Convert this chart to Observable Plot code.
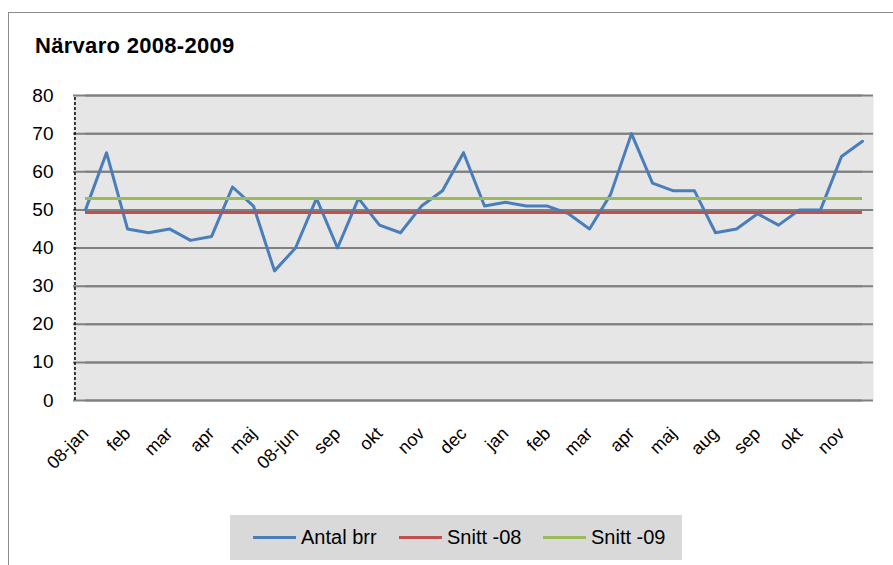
<!DOCTYPE html>
<html>
<head>
<meta charset="utf-8">
<script src="https://cdn.jsdelivr.net/npm/d3@7"></script>
<script src="https://cdn.jsdelivr.net/npm/@observablehq/plot@0.6"></script>
<style>
  body { margin: 0; background: #fff; font-family: "Liberation Sans", Arial, sans-serif; }
  #wrap { position: relative; width: 893px; height: 565px; overflow: hidden; }
  #border { position: absolute; left: 8px; top: 12px; width: 900px; height: 600px; border: 1px solid #8c8c8c; box-sizing: border-box; }
  #title { position: absolute; left: 35px; top: 33px; font-size: 22px; font-weight: bold; color: #000; letter-spacing: 0.3px; }
  #chart { position: absolute; left: 0; top: 0; }
  #legend { position: absolute; left: 230px; top: 515px; width: 452px; height: 45px; background: #d9d9d9; font-size: 20px; color: #000; }
  .item { display: flex; align-items: center; position: absolute; top: 0; height: 45px; }
  .sw { display: inline-block; width: 43px; height: 3px; margin-right: 5px; }
</style>
</head>
<body>
<div id="wrap">
  <div id="border"></div>
  <div id="chart"></div>
  <div id="title">Närvaro 2008-2009</div>
  <div id="legend"></div>
</div>
<script>
const tickLabels = ["08-jan","feb","mar","apr","maj","08-jun","sep","okt","nov","dec","jan","feb","mar","apr","maj","aug","sep","okt","nov"];
const antalBrr = [50,65,45,44,45,42,43,56,51,34,40,53,40,53,46,44,51,55,65,51,52,51,51,49,45,54,70,57,55,55,44,45,49,46,50,50,64,68];
const snitt08 = 49.3;
const snitt09 = 53;
const yTicks = [0,10,20,30,40,50,60,70,80];
const seriesNames = ["Antal brr","Snitt -08","Snitt -09"];
const seriesColors = ["#4a7ebb","#c0504d","#9bbb59"];

const data = antalBrr.map((v, i) => ({i, v}));
const idx = antalBrr.map((_, i) => i);
const tickIdx = tickLabels.map((_, k) => k * 2);
const halfStep = 800 / antalBrr.length / 2;

const chart = Plot.plot({
  width: 893,
  height: 565,
  marginLeft: 73,
  marginRight: 20,
  marginTop: 95,
  marginBottom: 165,
  style: { fontFamily: "Liberation Sans, Arial, sans-serif", background: "transparent", color: "#000" },
  x: { type: "point", domain: idx, padding: 0.5 },
  y: { domain: [0, 80] },
  marks: [
    Plot.frame({ fill: "#e6e6e6", stroke: null }),
    Plot.gridY(yTicks, { stroke: "#808080", strokeOpacity: 1, strokeWidth: 2, x1: 0, x2: antalBrr.length - 1, insetLeft: 0 }),
    Plot.tickY(yTicks, { y: d => d, stroke: "#808080", strokeWidth: 2 }),
    Plot.ruleX([0], { dx: -halfStep, y1: 0, y2: 80, stroke: "#000", strokeDasharray: "3,2", strokeWidth: 1.5 }),
    Plot.axisY(yTicks, { tickSize: 0, tickPadding: 20, fontSize: 19, label: null }),
    Plot.axisX(tickIdx, { tickSize: 0, tickPadding: 30, tickRotate: -45, fontSize: 18, label: null, tickFormat: i => tickLabels[i / 2] }),
    Plot.lineY(data, { x: "i", y: "v", stroke: seriesColors[0], strokeWidth: 3 }),
    Plot.ruleY([snitt08], { x1: 0, x2: antalBrr.length - 1, stroke: seriesColors[1], strokeWidth: 3 }),
    Plot.ruleY([snitt09], { x1: 0, x2: antalBrr.length - 1, stroke: seriesColors[2], strokeWidth: 3 })
  ]
});
document.getElementById("chart").appendChild(chart);

const legend = document.getElementById("legend");
const lefts = [23, 169, 313];
seriesNames.forEach((name, k) => {
  const it = document.createElement("div");
  it.className = "item";
  it.style.left = lefts[k] + "px";
  it.innerHTML = `<span class="sw" style="background:${seriesColors[k]}"></span><span>${name}</span>`;
  legend.appendChild(it);
});
</script>
</body>
</html>
